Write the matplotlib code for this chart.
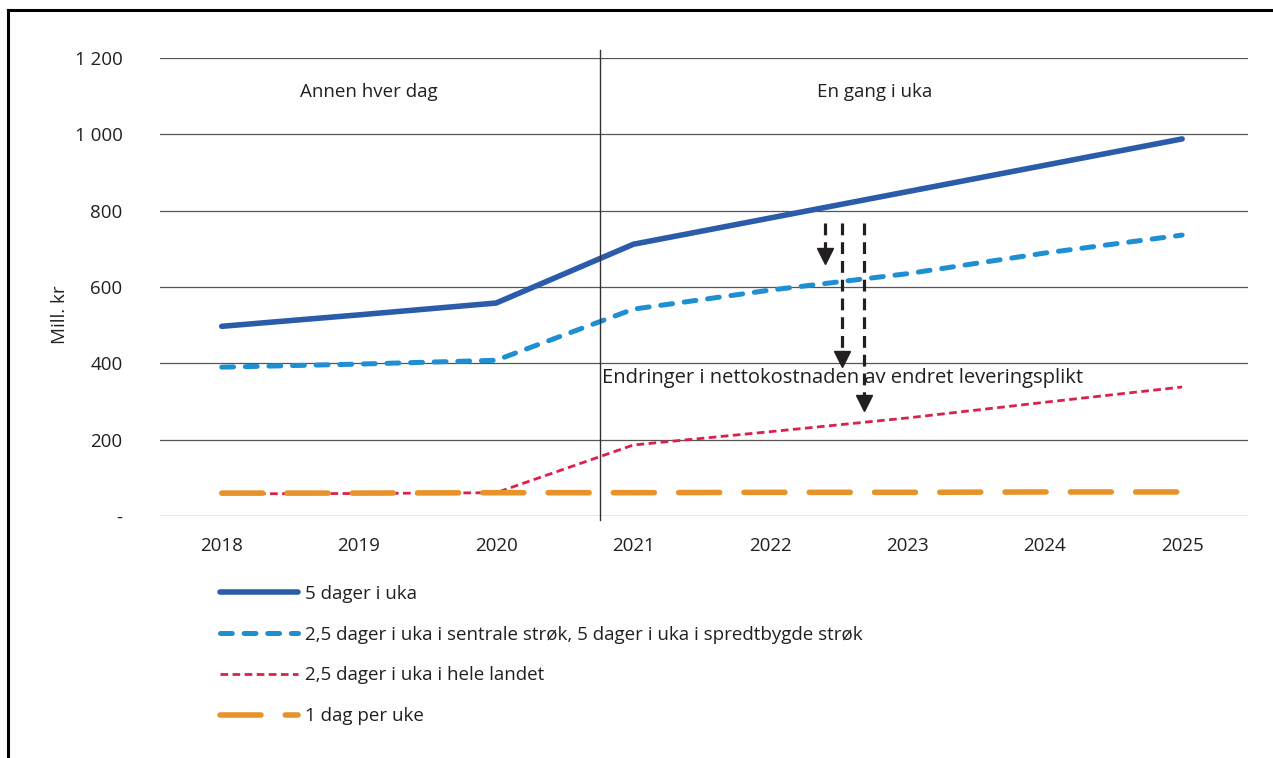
import matplotlib.pyplot as plt
from matplotlib.lines import Line2D
import numpy as np

plt.rcParams['font.family'] = ['Open Sans', 'DejaVu Sans']
plt.rcParams['lines.scale_dashes'] = False

years = ['2018', '2019', '2020', '2021', '2022', '2023', '2024', '2025']
fem_dager = [497, 527, 558, 712, 781, 850, 919, 988]
sentrale = [390, 398, 408, 542, 592, 635, 689, 736]
hele_landet = [58, 59, 61, 186, 221, 257, 298, 338]
en_dag = [60, 60, 61, 61, 62, 62, 63, 63]

labels = ['5 dager i uka',
          '2,5 dager i uka i sentrale strøk, 5 dager i uka i spredtbygde strøk',
          '2,5 dager i uka i hele landet',
          '1 dag per uke']

# arrows showing the change in net cost
arrow_x = [4.40, 4.52, 4.68]
arrow_top = [768, 768, 768]
arrow_tip = [663, 393, 278]

regime_split = 2.76
txt = '#231f20'
fs = 13.5

fig = plt.figure(figsize=(12.73, 7.58), dpi=100)
ax = fig.add_axes([160 / 1273, 1 - 516 / 758, 1088 / 1273, 458 / 758])

x = np.arange(len(years))
ax.plot(x, fem_dager, color='#2a5caa', lw=4.0, solid_capstyle='round', label=labels[0], zorder=5)
ax.plot(x, sentrale, color='#1e8fd2', lw=3.6, dashes=(8.5, 8.5), dash_capstyle='round',
        label=labels[1], zorder=5)
ax.plot(x, hele_landet, color='#dc1f4b', lw=2.0, dashes=(5.5, 3.2), dash_capstyle='butt',
        label=labels[2], zorder=4)
ax.plot(x, en_dag, color='#e8922a', lw=4.0, dashes=(29.5, 17.5), dash_capstyle='round',
        label=labels[3], zorder=5)

for xa, y0, y1 in zip(arrow_x, arrow_top, arrow_tip):
    head = 14 / 0.3817
    ax.plot([xa, xa], [y0, y1 + head * 0.6], color='#231f20', lw=2.3, dashes=(8.5, 5),
            dash_capstyle='butt', zorder=7)
    ax.plot([xa], [y1 + head / 2], marker='v', color='#231f20', markersize=12, zorder=7)

ax.plot([regime_split, regime_split], [-10, 1222], color='#333333', lw=1.0, clip_on=False, zorder=9)

ax.text(1.07, 1111, 'Annen hver dag', ha='center', va='center', fontsize=fs, color=txt)
ax.text(4.76, 1111, 'En gang i uka', ha='center', va='center', fontsize=fs, color=txt)
ax.text(2.77, 362, 'Endringer i nettokostnaden av endret leveringsplikt', ha='left', va='center',
        fontsize=14.5, color=txt, zorder=8)

ax.set_xlim(-0.45, 7.48)
ax.set_ylim(0, 1200)
ax.set_xticks(x)
ax.set_xticklabels(years)
yt = [0, 200, 400, 600, 800, 1000, 1200]
ax.set_yticks(yt)
ax.set_yticklabels(['-' if v == 0 else f'{v:,}'.replace(',', ' ') for v in yt])
ax.tick_params(axis='both', length=0, labelsize=fs, colors=txt)
ax.tick_params(axis='y', pad=27)
ax.tick_params(axis='x', pad=15)
ax.grid(axis='y', color='#555555', lw=0.9)
ax.set_axisbelow(True)
for s in ax.spines.values():
    s.set_visible(False)
ax.set_ylabel('Mill. kr', fontsize=fs, color=txt)
ax.yaxis.set_label_coords(-0.0835, 0.44)

leg = ax.legend(loc='upper left', bbox_to_anchor=(220 / 1273, 1 - 585 / 758),
                bbox_transform=fig.transFigure, frameon=False, fontsize=fs,
                handlelength=4.15, handletextpad=0.4, labelspacing=1.21,
                borderpad=0, borderaxespad=0)
for t in leg.get_texts():
    t.set_color(txt)

# outer frame (top and left edges)
fig.add_artist(Line2D([8 / 1273, 1], [1 - 10 / 758, 1 - 10 / 758], color='black', lw=2.2))
fig.add_artist(Line2D([8 / 1273, 8 / 1273], [0, 1 - 10 / 758], color='black', lw=2.2))

fig.savefig('out.png', dpi=100)
